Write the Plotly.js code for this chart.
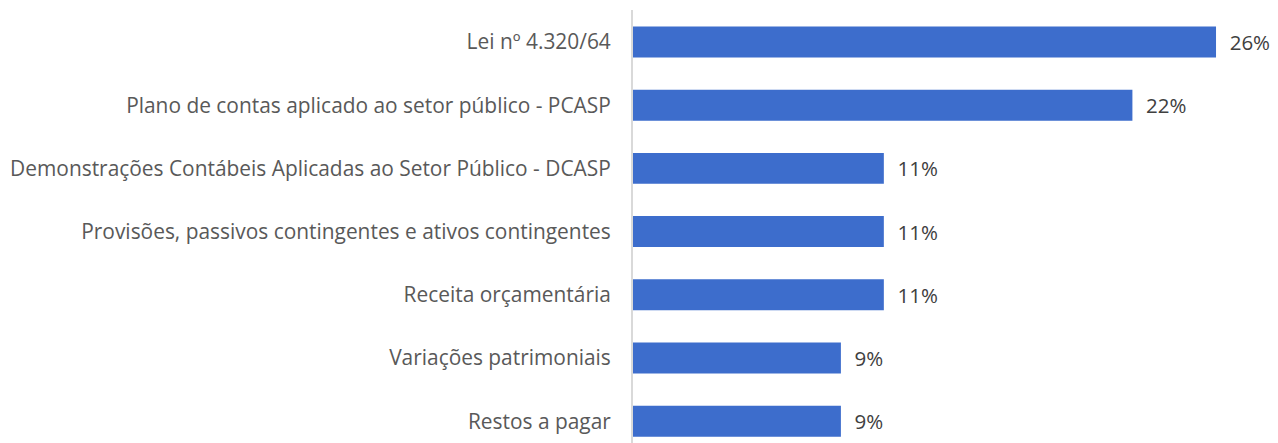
<!DOCTYPE html>
<html>
<head>
<meta charset="utf-8">
<script src="https://cdn.plot.ly/plotly-3.0.1.min.js"></script>
<style>
  html, body { margin: 0; padding: 0; background: #fff; }
  #chart { width: 1278px; height: 443px; }
</style>
</head>
<body>
<div id="chart"></div>
<script>
// Categorias (de baixo para cima) e percentuais
const categorias = [
  'Restos a pagar',
  'Variações patrimoniais',
  'Receita orçamentária',
  'Provisões, passivos contingentes e ativos contingentes',
  'Demonstrações Contábeis Aplicadas ao Setor Público - DCASP',
  'Plano de contas aplicado ao setor público - PCASP',
  'Lei nº 4.320/64'
];
const percentuais = [9.2, 9.2, 11.1, 11.1, 11.1, 22.1, 25.8];
const rotulos = ['9%', '9%', '11%', '11%', '11%', '22%', '26%'];

const barras = {
  type: 'bar',
  orientation: 'h',
  x: percentuais,
  y: categorias,
  text: rotulos.map(r => '\u00a0\u00a0' + r),
  texttemplate: '%{text}',
  textposition: 'outside',
  cliponaxis: false,
  textfont: { family: 'Open Sans, sans-serif', size: 20.5, color: '#404040' },
  marker: { color: '#3d6dcc', line: { width: 0 } },
  hoverinfo: 'skip'
};

const layout = {
  width: 1278,
  height: 443,
  margin: { l: 633, r: 10, t: 10, b: 0 },
  paper_bgcolor: '#ffffff',
  plot_bgcolor: '#ffffff',
  showlegend: false,
  bargap: 0.51,
  xaxis: {
    range: [0, 28.1],
    showgrid: false,
    zeroline: false,
    showticklabels: false,
    showline: false,
    fixedrange: true
  },
  yaxis: {
    range: [-0.345, 6.506],
    showgrid: false,
    zeroline: false,
    showline: true,
    linecolor: '#d9d9d9',
    linewidth: 2,
    ticks: '',
    ticklabelstandoff: 16,
    tickfont: { family: 'Open Sans, sans-serif', size: 20.9, color: '#595959' },
    fixedrange: true
  }
};

Plotly.newPlot('chart', [barras], layout, { displayModeBar: false, staticPlot: true });
</script>
</body>
</html>
